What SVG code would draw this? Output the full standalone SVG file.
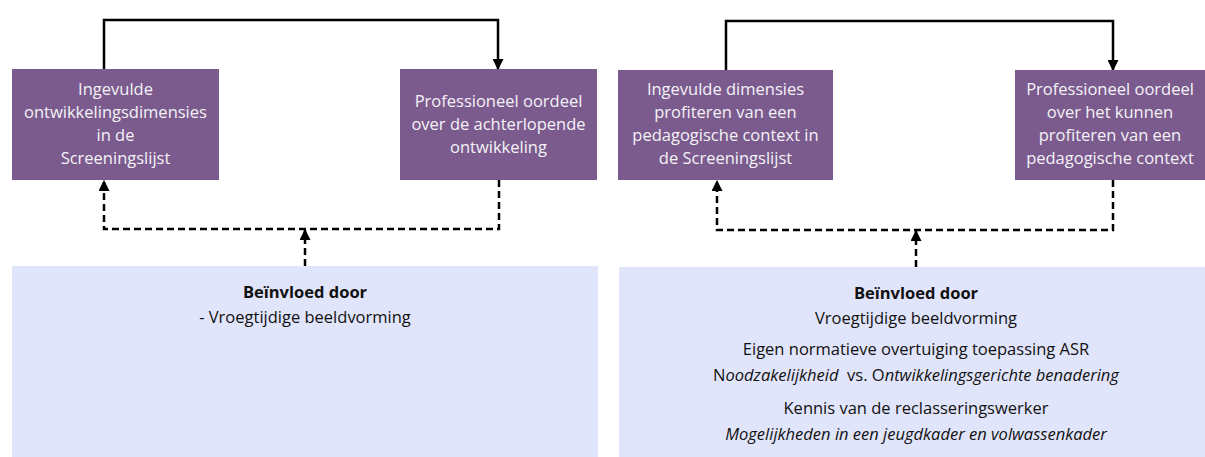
<svg xmlns="http://www.w3.org/2000/svg" width="1205" height="457" viewBox="0 0 1205 457">
<defs>
<style>
.box{fill:#7B5B8E;}
.infl{fill:#E1E5FB;}
.bt{font-family:"Open Sans","Liberation Sans",sans-serif;font-size:16.5px;fill:#F4F2F6;text-anchor:middle;}
.it{font-family:"Open Sans","Liberation Sans",sans-serif;font-size:16.5px;fill:#111;text-anchor:middle;}
.b{font-weight:bold;}
.i{font-style:italic;}
.solid{fill:none;stroke:#000;stroke-width:2.5;stroke-linejoin:miter;}
.dash{fill:none;stroke:#000;stroke-width:2.5;stroke-dasharray:7,4;}
</style>
<marker id="ah" viewBox="0 0 10 10" refX="9" refY="5" markerWidth="4.4" markerHeight="4.4" orient="auto" markerUnits="strokeWidth">
<path d="M0,0 L10,5 L0,10 z" fill="#000"/>
</marker>
</defs>
<rect width="1205" height="457" fill="#fff"/>

<g id="connectors">
<path class="solid" d="M104,69 V20 H498 V69" marker-end="url(#ah)"/>
<path class="dash" d="M499,180 V229 H104 V181" marker-end="url(#ah)"/>
<path class="dash" d="M305,266 V230" marker-end="url(#ah)"/>
<path class="solid" d="M726,70 V21 H1113 V70" marker-end="url(#ah)"/>
<path class="dash" d="M1113,180 V230 H717 V181" marker-end="url(#ah)"/>
<path class="dash" d="M916,267 V231" marker-end="url(#ah)"/>
</g>

<g id="l-input">
<rect class="box" x="12" y="69" width="207" height="111"/>
<text class="bt" x="115.5" y="95">Ingevulde</text>
<text class="bt" x="115.5" y="118">ontwikkelingsdimensies</text>
<text class="bt" x="115.5" y="141">in de</text>
<text class="bt" x="115.5" y="164">Screeningslijst</text>
</g>

<g id="l-oordeel">
<rect class="box" x="400" y="69" width="197" height="111"/>
<text class="bt" x="498.5" y="107">Professioneel oordeel</text>
<text class="bt" x="498.5" y="130">over de achterlopende</text>
<text class="bt" x="498.5" y="153">ontwikkeling</text>
</g>

<g id="l-infl">
<rect class="infl" x="12" y="266" width="586" height="191"/>
<text class="it b" x="305" y="298">Beïnvloed door</text>
<text class="it" x="305" y="323">- Vroegtijdige beeldvorming</text>
</g>

<g id="r-input">
<rect class="box" x="618" y="70" width="215" height="110"/>
<text class="bt" x="725.5" y="95">Ingevulde dimensies</text>
<text class="bt" x="725.5" y="118">profiteren van een</text>
<text class="bt" x="725.5" y="141">pedagogische context in</text>
<text class="bt" x="725.5" y="164">de Screeningslijst</text>
</g>

<g id="r-oordeel">
<rect class="box" x="1015" y="70" width="190" height="110"/>
<text class="bt" x="1110" y="95">Professioneel oordeel</text>
<text class="bt" x="1110" y="118">over het kunnen</text>
<text class="bt" x="1110" y="141">profiteren van een</text>
<text class="bt" x="1110" y="164">pedagogische context</text>
</g>

<g id="r-infl">
<rect class="infl" x="619" y="267" width="586" height="190"/>
<text class="it b" x="916" y="299">Beïnvloed door</text>
<text class="it" x="916" y="324">Vroegtijdige beeldvorming</text>
<text class="it" x="916" y="355">Eigen normatieve overtuiging toepassing ASR</text>
<text class="it" x="916" y="381" xml:space="preserve">N<tspan class="i">oodzakelijkheid</tspan>  vs. O<tspan class="i">ntwikkelingsgerichte benadering</tspan></text>
<text class="it" x="916" y="414">Kennis van de reclasseringswerker</text>
<text class="it i" x="916" y="440">Mogelijkheden in een jeugdkader en volwassenkader</text>
</g>
</svg>
